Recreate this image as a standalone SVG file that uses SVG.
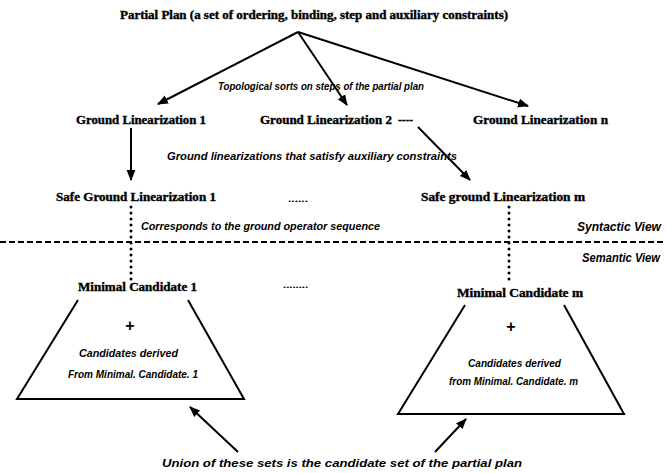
<svg xmlns="http://www.w3.org/2000/svg" width="666" height="473" viewBox="0 0 666 473">
  <style>
    .lbl { font-family: "Liberation Serif", "Times New Roman", serif; font-weight: bold; font-size: 11.5px; fill: #000; stroke: #000; stroke-width: 0.35px; }
    .note { font-family: "Liberation Sans", Arial, sans-serif; font-style: italic; font-weight: bold; font-size: 10px; fill: #000; }
    .view { font-family: "Liberation Sans", Arial, sans-serif; font-style: italic; font-weight: bold; font-size: 12px; fill: #000; }
    .plus { font-family: "Liberation Sans", Arial, sans-serif; font-weight: bold; font-size: 16px; fill: #000; }
    .small { font-family: "Liberation Serif", serif; font-weight: bold; font-size: 9px; fill: #000; }
    .edge { stroke: #000; stroke-width: 2; fill: none; }
    .dots { stroke: #000; stroke-width: 3; stroke-linecap: round; stroke-dasharray: 0 6; fill: none; }
    .shape { stroke: #000; stroke-width: 2; fill: none; }
  </style>
  <defs>
    <marker id="arrow" viewBox="0 0 10 10" refX="9" refY="5" markerWidth="5.5" markerHeight="5.5" orient="auto" markerUnits="strokeWidth">
      <path d="M0,1 L10,5 L0,9 z" fill="#000"/>
    </marker>
  </defs>
  <rect width="666" height="473" fill="#fff"/>

  <!-- connectors -->
  <g id="connectors">
    <line class="edge" x1="298" y1="32" x2="158" y2="104" marker-end="url(#arrow)"/>
    <line class="edge" x1="298" y1="32" x2="347" y2="105" marker-end="url(#arrow)"/>
    <line class="edge" x1="298" y1="32" x2="528" y2="106" marker-end="url(#arrow)"/>
    <line class="edge" x1="131" y1="128" x2="131" y2="180" marker-end="url(#arrow)"/>
    <line class="edge" x1="418" y1="127" x2="470" y2="180" marker-end="url(#arrow)"/>
    <line class="dots" x1="131" y1="207" x2="131" y2="283"/>
    <line class="dots" x1="509" y1="207" x2="509" y2="283"/>
    <line class="edge" x1="238" y1="452" x2="190" y2="407" marker-end="url(#arrow)"/>
    <line class="edge" x1="435" y1="452" x2="466" y2="419" marker-end="url(#arrow)"/>
  </g>

  <!-- view separator -->
  <line x1="0" y1="242" x2="666" y2="242" stroke="#000" stroke-width="2" stroke-dasharray="6 3"/>
  <text class="view" x="577" y="231" textLength="84" lengthAdjust="spacingAndGlyphs">Syntactic View</text>
  <text class="view" x="582" y="262" textLength="78" lengthAdjust="spacingAndGlyphs">Semantic View</text>

  <g id="partial-plan">
    <text class="lbl" x="120" y="19" textLength="388" lengthAdjust="spacingAndGlyphs">Partial Plan (a set of ordering, binding, step and auxiliary constraints)</text>
  </g>
  <text class="note" x="218" y="90" textLength="206" lengthAdjust="spacingAndGlyphs">Topological sorts on steps of the partial plan</text>

  <g id="ground-lin-1">
    <text class="lbl" x="76" y="124" textLength="130" lengthAdjust="spacingAndGlyphs">Ground Linearization 1</text>
  </g>
  <g id="ground-lin-2">
    <text class="lbl" x="260" y="124" textLength="132" lengthAdjust="spacingAndGlyphs">Ground Linearization 2</text>
  </g>
  <text class="lbl" x="398" y="124" textLength="15" lengthAdjust="spacingAndGlyphs">----</text>
  <g id="ground-lin-n">
    <text class="lbl" x="473" y="124" textLength="135" lengthAdjust="spacingAndGlyphs">Ground Linearization n</text>
  </g>

  <text class="note" x="167" y="160" textLength="290" lengthAdjust="spacingAndGlyphs">Ground linearizations that satisfy auxiliary constraints</text>

  <g id="safe-lin-1">
    <text class="lbl" x="56" y="201" textLength="160" lengthAdjust="spacingAndGlyphs">Safe Ground Linearization  1</text>
  </g>
  <text class="small" x="288" y="202" textLength="20" lengthAdjust="spacingAndGlyphs">......</text>
  <g id="safe-lin-m">
    <text class="lbl" x="421" y="201" textLength="164" lengthAdjust="spacingAndGlyphs">Safe ground Linearization m</text>
  </g>

  <text class="note" x="141" y="230" textLength="239" lengthAdjust="spacingAndGlyphs">Corresponds to the ground operator sequence</text>

  <g id="minimal-1">
    <text class="lbl" x="78" y="291" textLength="119" lengthAdjust="spacingAndGlyphs">Minimal Candidate 1</text>
    <polyline class="shape" points="78,300 17,399 244,399 188,300"/>
    <text class="plus" x="130" y="331" text-anchor="middle">+</text>
    <text class="note" x="79" y="357" textLength="99" lengthAdjust="spacingAndGlyphs">Candidates derived</text>
    <text class="note" x="68" y="378" textLength="130" lengthAdjust="spacingAndGlyphs">From Minimal. Candidate. 1</text>
  </g>
  <text class="small" x="283" y="288" textLength="25" lengthAdjust="spacingAndGlyphs">........</text>

  <g id="minimal-m">
    <text class="lbl" x="457" y="297" textLength="126" lengthAdjust="spacingAndGlyphs">Minimal Candidate m</text>
    <polyline class="shape" points="465,305 398,414 624,414 564,305"/>
    <text class="plus" x="511" y="332" text-anchor="middle">+</text>
    <text class="note" x="468" y="367" textLength="93" lengthAdjust="spacingAndGlyphs">Candidates derived</text>
    <text class="note" x="449" y="385" textLength="129" lengthAdjust="spacingAndGlyphs">from Minimal. Candidate. m</text>
  </g>

  <text class="note" x="162" y="467" textLength="360" lengthAdjust="spacingAndGlyphs">Union of these sets is the candidate set of the partial plan</text>
</svg>
